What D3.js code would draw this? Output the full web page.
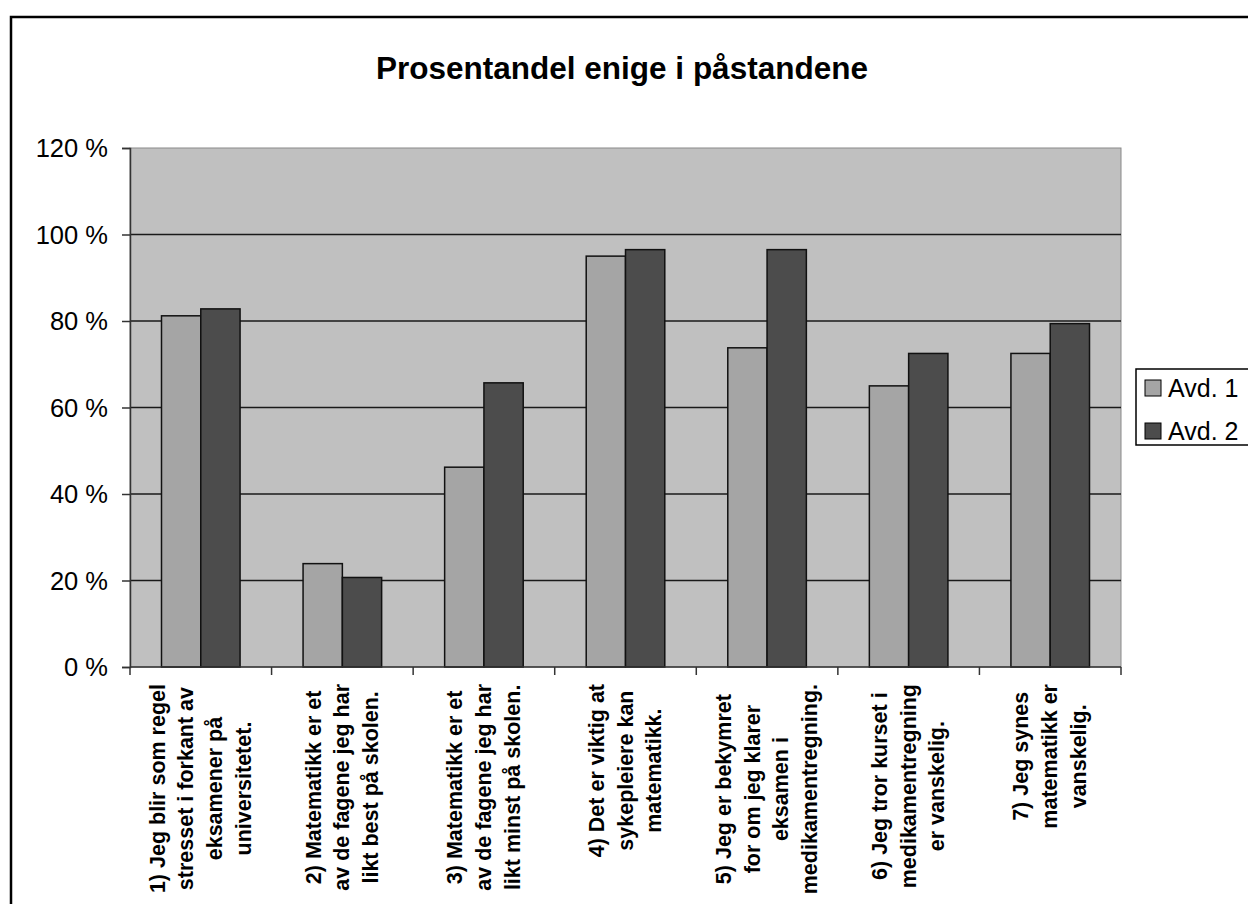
<!DOCTYPE html>
<html>
<head>
<meta charset="utf-8">
<script src="https://cdn.jsdelivr.net/npm/d3@7"></script>
<style>
  html, body { margin: 0; padding: 0; background: #fff; }
  svg { display: block; }
  text { font-family: Arial, "Liberation Sans", sans-serif; }
</style>
</head>
<body>
<svg id="chart" width="1248" height="904"></svg>
<script>
const title = "Prosentandel enige i påstandene";
const categories = [
  ["1) Jeg blir som regel", "stresset i forkant av", "eksamener på", "universitetet."],
  ["2) Matematikk er et", "av de fagene jeg har", "likt best på skolen."],
  ["3) Matematikk er et", "av de fagene jeg har", "likt minst på skolen."],
  ["4) Det er viktig at", "sykepleiere kan", "matematikk."],
  ["5) Jeg er bekymret", "for om jeg klarer", "eksamen i", "medikamentregning."],
  ["6) Jeg tror kurset i", "medikamentregning", "er vanskelig."],
  ["7) Jeg synes", "matematikk er", "vanskelig."]
];
const seriesNames = ["Avd. 1", "Avd. 2"];
const avd1 = [81.2, 23.9, 46.2, 95.0, 73.8, 65.0, 72.5];
const avd2 = [82.8, 20.7, 65.7, 96.5, 96.5, 72.5, 79.4];
const yTicks = [0, 20, 40, 60, 80, 100, 120];
const seriesColors = ["#a5a5a5", "#4c4c4c"];

const svg = d3.select("#chart");

// outer chart border
svg.append("rect").attr("x", 11).attr("y", 17).attr("width", 1300).attr("height", 1000)
  .attr("fill", "#fff").attr("stroke", "#000").attr("stroke-width", 2.5);

const plot = { left: 130, right: 1121, top: 148, bottom: 667 };

const x = d3.scaleBand().domain(d3.range(categories.length)).range([plot.left, plot.right]).padding(0);
const y = d3.scaleLinear().domain([0, 120]).range([plot.bottom, plot.top]);
const groupW = x.bandwidth() * 0.555;
const xs = d3.scaleBand().domain(seriesNames)
  .range([(x.bandwidth() - groupW) / 2, (x.bandwidth() + groupW) / 2]).padding(0);

// plot background
svg.append("rect").attr("x", plot.left).attr("y", plot.top)
  .attr("width", plot.right - plot.left).attr("height", plot.bottom - plot.top)
  .attr("fill", "#c0c0c0").attr("stroke", "#8a8a8a").attr("stroke-width", 1);

// gridlines
svg.append("g").selectAll("line").data(yTicks.filter(t => t > 0 && t < 120)).join("line")
  .attr("x1", plot.left).attr("x2", plot.right)
  .attr("y1", d => y(d)).attr("y2", d => y(d))
  .attr("stroke", "#1a1a1a").attr("stroke-width", 1.5);

// bars
const data = categories.map((c, i) => ({ i, vals: [avd1[i], avd2[i]] }));
const groups = svg.append("g").selectAll("g").data(data).join("g")
  .attr("transform", d => `translate(${x(d.i)},0)`);
groups.selectAll("rect").data(d => d.vals.map((v, k) => ({ v, k }))).join("rect")
  .attr("x", d => xs(seriesNames[d.k]))
  .attr("y", d => y(d.v))
  .attr("width", xs.bandwidth())
  .attr("height", d => y(0) - y(d.v))
  .attr("fill", d => seriesColors[d.k])
  .attr("stroke", "#111").attr("stroke-width", 1.5);

// y axis
const yAxis = d3.axisLeft(y).tickValues(yTicks).tickSize(8).tickFormat(d => d + " %");
const yg = svg.append("g").attr("transform", `translate(${plot.left},0)`).call(yAxis);
yg.select(".domain").attr("stroke", "#333").attr("stroke-width", 1.5);
yg.selectAll(".tick line").attr("stroke", "#333").attr("stroke-width", 1.5);
yg.selectAll(".tick text").attr("font-size", 25.5).attr("fill", "#000")
  .attr("x", -22).attr("dy", "0.35em").style("font-family", "Arial, 'Liberation Sans', sans-serif");

// x axis
svg.append("line").attr("x1", plot.left).attr("x2", plot.right)
  .attr("y1", plot.bottom).attr("y2", plot.bottom)
  .attr("stroke", "#333").attr("stroke-width", 1.5);
const bounds = d3.range(categories.length + 1).map(i => i < categories.length ? x(i) : plot.right);
svg.append("g").selectAll("line").data(bounds).join("line")
  .attr("x1", d => d).attr("x2", d => d)
  .attr("y1", plot.bottom).attr("y2", plot.bottom + 8)
  .attr("stroke", "#333").attr("stroke-width", 1.5);

// category labels (rotated)
const lineGap = 28.8;
const labelTop = 684;
const lg = svg.append("g");
categories.forEach((lines, i) => {
  const cx = x(i) + x.bandwidth() / 2;
  const g = lg.append("g");
  const texts = lines.map((t, j) => {
    const lx = cx + (j - (lines.length - 1) / 2) * lineGap;
    return g.append("text").text(t)
      .attr("font-size", 21.5).attr("font-weight", "bold")
      .attr("text-anchor", "middle").attr("dominant-baseline", "central")
      .attr("data-x", lx);
  });
  const maxLen = d3.max(texts, t => t.node().getComputedTextLength());
  const cy = labelTop + maxLen / 2;
  texts.forEach(t => {
    const lx = +t.attr("data-x");
    t.attr("transform", `translate(${lx},${cy}) rotate(-90)`);
  });
});

// title
svg.append("text").attr("x", 622).attr("y", 79).attr("text-anchor", "middle")
  .attr("font-size", 31.5).attr("font-weight", "bold").text(title);

// legend
const leg = svg.append("g");
leg.append("rect").attr("x", 1136).attr("y", 369).attr("width", 200).attr("height", 76)
  .attr("fill", "#fff").attr("stroke", "#000").attr("stroke-width", 1.5);
seriesNames.forEach((s, k) => {
  const cy = 388 + k * 43;
  leg.append("rect").attr("x", 1145).attr("y", cy - 8).attr("width", 16).attr("height", 16)
    .attr("fill", seriesColors[k]).attr("stroke", "#000").attr("stroke-width", 1);
  leg.append("text").attr("x", 1168).attr("y", cy).attr("dy", "0.35em")
    .attr("font-size", 25).text(s);
});
</script>
</body>
</html>
